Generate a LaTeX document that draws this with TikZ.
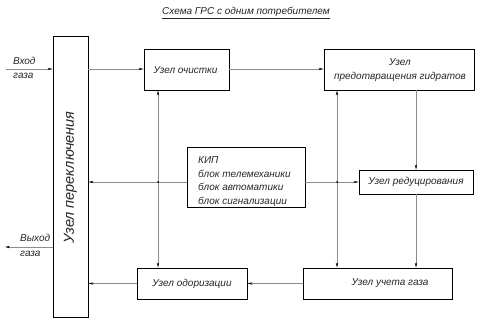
\documentclass[tikz,border=0pt]{standalone}
\usepackage{fontspec}
\setmainfont{Liberation Sans}
\usetikzlibrary{arrows.meta}
\begin{document}
\begin{tikzpicture}[x=1pt,y=-1pt,
  box/.style={draw=black,line width=0.9pt,rectangle,inner sep=0pt,anchor=center},
  conn/.style={draw=black!45,line width=0.6pt},
  arr/.style={conn,-{Stealth[length=5pt,width=2.4pt,black]}},
  barr/.style={conn,{Stealth[length=5pt,width=2.4pt,black]}-{Stealth[length=5pt,width=2.4pt,black]}},
  lbl/.style={font=\itshape\fontsize{10}{12}\selectfont,inner sep=0pt,text=black!85},
  jdot/.style={circle,fill=black,inner sep=0pt,minimum size=2pt}]
\useasboundingbox (0,0) rectangle (489,331);
% title
\node[lbl] (title) at (246,13) {\underline{Схема ГРС с одним потребителем}};
% boxes
\node[box,minimum width=35pt,minimum height=281pt] (sw) at (70.5,176.5) {};
\node[lbl,rotate=90,font=\itshape\fontsize{14.5}{16}\selectfont] (swt) at (70.5,177.5) {Узел переключения};
\node[box,minimum width=85pt,minimum height=41pt] (och) at (186.5,69.5) {};
\node[lbl] (ocht) at (185.5,70) {Узел очистки};
\node[box,minimum width=150pt,minimum height=41pt] (pred) at (399,69.5) {};
\node[lbl,align=center,font=\itshape\fontsize{10}{14}\selectfont] (predt) at (400,70) {Узел\\предотвращения гидратов};
\node[box,minimum width=118pt,minimum height=60pt] (kip) at (246,177) {};
\node[lbl,align=left,anchor=west,font=\itshape\fontsize{10}{13.7}\selectfont] (kipt) at (198,181.5) {КИП\\блок телемеханики\\блок автоматики\\блок сигнализации};
\node[box,minimum width=114pt,minimum height=24pt] (red) at (416,182) {};
\node[lbl] (redt) at (416,182) {Узел редуцирования};
\node[box,minimum width=149pt,minimum height=31pt] (uch) at (377.5,283.5) {};
\node[lbl] (ucht) at (390,283.5) {Узел учета газа};
\node[box,minimum width=110pt,minimum height=31pt] (odo) at (192,283.5) {};
\node[lbl] (odot) at (192,283.5) {Узел одоризации};
% inlet / outlet
\coordinate (inA) at (6,69);
\coordinate (outA) at (5,247);
\draw[arr] (inA) -- (inA -| sw.west);
\draw[arr] (outA -| sw.west) -- (outA);
\node[lbl,anchor=west] (vhod) at (13,61) {Вход};
\node[lbl,anchor=west] (vhodg) at (13,76) {газа};
\node[lbl,anchor=west] (vyh) at (20,238) {Выход};
\node[lbl,anchor=west] (vyhg) at (20,254) {газа};
% top row
\draw[arr] (sw.east |- inA) -- (och.west |- inA);
\draw[arr] (och.east |- inA) -- (pred.west |- inA);
\draw[arr] (pred.south -| red.north) -- (red.north);
\draw[arr] (red.south) -- (red.south |- uch.north);
% KIP lines
\coordinate (v1) at (158,182);
\coordinate (v2) at (337,182);
\draw[arr] (kip.west |- v1) -- (sw.east |- v1);
\draw[arr] (kip.east |- v2) -- (red.west |- v2);
\draw[barr] (v1 |- och.south) -- (v1 |- odo.north);
\draw[barr] (v2 |- pred.south) -- (v2 |- uch.north);
\node[jdot] (d1) at (v1) {};
\node[jdot] (d2) at (v2) {};
% bottom row
\draw[arr] (uch.west) -- (odo.east);
\draw[arr] (odo.west) -- (odo.west -| sw.east);
\end{tikzpicture}
\end{document}
